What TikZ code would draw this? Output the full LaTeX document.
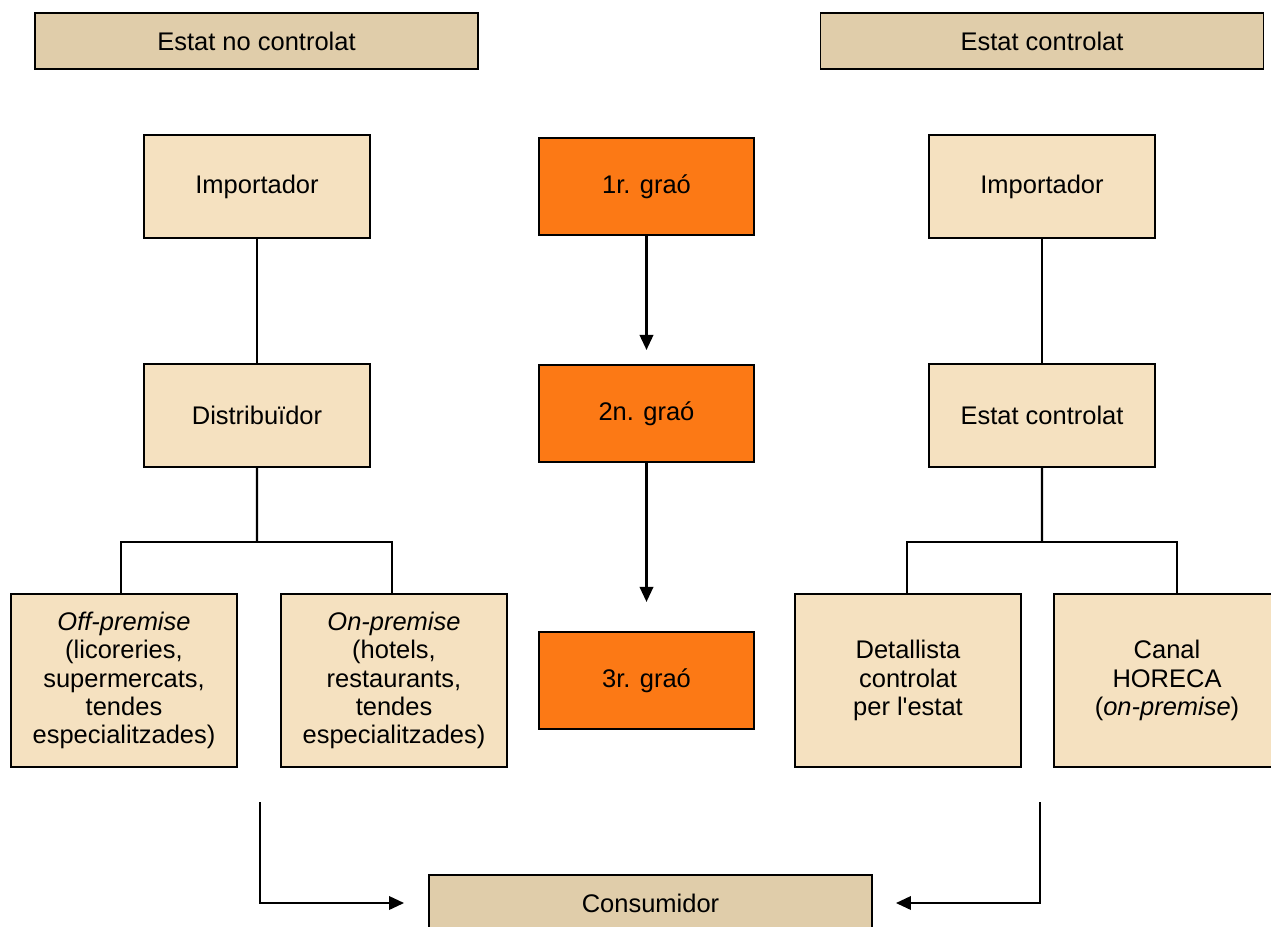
\documentclass[tikz,border=0pt]{standalone}
\usepackage{fontspec}
\setmainfont{Liberation Sans}
\usetikzlibrary{arrows.meta, positioning, calc}
\definecolor{headertan}{RGB}{224,205,170}
\definecolor{boxcream}{RGB}{245,225,192}
\definecolor{gradeorange}{RGB}{252,121,21}

\begin{document}
\begin{tikzpicture}[
        node distance=1.5cm,
        every node/.style={font=\fontsize{14.5}{16}\selectfont},
        header/.style={rectangle, draw=black, line width=1.1pt, fill=headertan, minimum width=8.86cm, minimum height=1.12cm, align=center},
        box/.style={rectangle, draw=black, line width=1.1pt, fill=boxcream, minimum width=4.52cm, minimum height=2.06cm, align=center},
        tallbox/.style={box, minimum height=3.46cm},
        grade/.style={rectangle, draw=black, line width=1.1pt, fill=gradeorange, minimum width=4.3cm, minimum height=1.94cm, align=center},
        link/.style={draw=black, line width=1.2pt},
        arr/.style={link, -{Triangle[length=0.3cm, width=0.27cm]}}
    ]
        \clip (0,0) rectangle (25.42,-18.52);
        \fill[white] (0,0) rectangle (25.42,-18.52);

        % headers
        \node[header] (nocontrol) at (5.13,-0.82) {Estat no controlat};
        \node[header] (control) at (20.84,-0.82) {Estat controlat};

        % left column
        \node[box] (importL) at (5.14,-3.73) {Importador};
        \node[box, below=2.48cm of importL] (distrib) {Distribuïdor};
        \node[tallbox] (offprem) at (2.48,-13.61) {\textit{Off-premise}\\(licoreries,\\supermercats,\\tendes\\especialitzades)};
        \node[tallbox] (onprem) at (7.88,-13.61) {\textit{On-premise}\\(hotels,\\restaurants,\\tendes\\especialitzades)};

        % middle column
        \node[grade] (grau1) at (12.93,-3.73) {1r. graó};
        \node[grade, below=2.56cm of grau1] (grau2) {2n. graó};
        \node[grade, below=3.36cm of grau2] (grau3) {3r. graó};

        % right column
        \node[box] (importR) at (20.84,-3.73) {Importador};
        \node[box, below=2.48cm of importR] (statectl) {Estat controlat};
        \node[tallbox] (retail) at (18.16,-13.61) {Detallista\\controlat\\per l\textquotesingle estat};
        \node[tallbox] (horeca) at (23.34,-13.61) {Canal\\HORECA\\(\textit{on-premise})};

        \node[header] (consumer) at (13.01,-18.06) {Consumidor};
        \coordinate (fromL) at (5.2,-16.04);
        \coordinate (fromR) at (20.8,-16.04);

        \draw[link] (importL) -- (distrib);
        \draw[link] (distrib.south) -- ($(distrib.south)!0.59!(distrib.south |- offprem.north)$) coordinate (forkL);
        \draw[link] ([xshift=-0.06cm]offprem.north) |- (forkL) -| ([xshift=-0.04cm]onprem.north);

        \draw[link] (importR) -- (statectl);
        \draw[link] (statectl.south) -- ($(statectl.south)!0.59!(statectl.south |- retail.north)$) coordinate (forkR);
        \draw[link] ([xshift=-0.02cm]retail.north) |- (forkR) -| ([xshift=0.2cm]horeca.north);

        \draw[arr, shorten >=0.28cm] (grau1) -- (grau2);
        \draw[arr, shorten >=0.58cm] (grau2) -- (grau3);

        \draw[arr, shorten >=0.48cm] (fromL) |- (consumer.west);
        \draw[arr, shorten >=0.46cm] (fromR) |- (consumer.east);
    \end{tikzpicture}
\end{document}
